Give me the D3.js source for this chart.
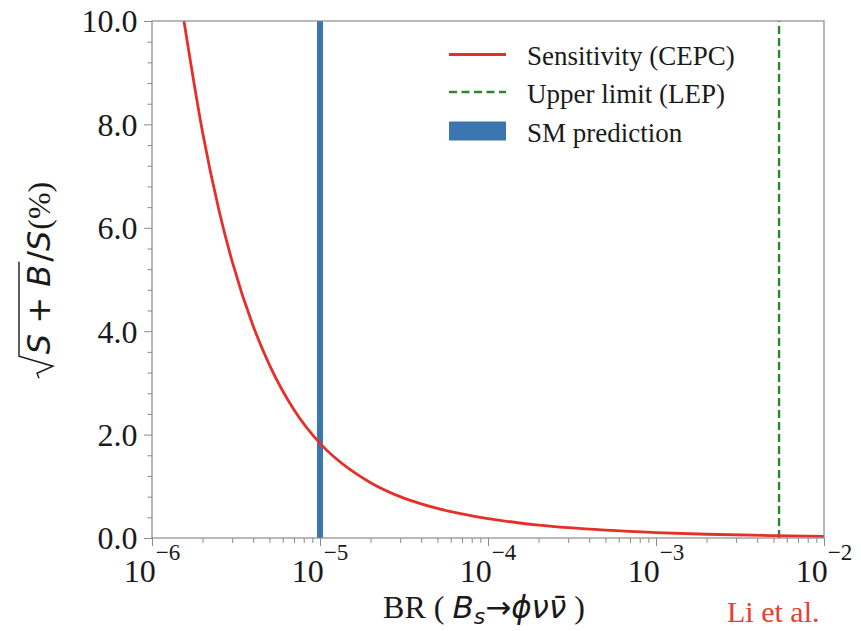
<!DOCTYPE html>
<html>
<head>
<meta charset="utf-8">
<script src="https://cdn.jsdelivr.net/npm/d3@7"></script>
<style>
  html, body { margin: 0; padding: 0; background: #fff; }
  svg { display: block; }
</style>
</head>
<body>
<svg id="chart" width="861" height="631"></svg>
<script>
// ---- data ----
const brValues   = [1.55e-6, 2e-6, 2.5e-6, 3e-6, 4e-6, 5e-6, 7e-6, 1e-5, 1.5e-5, 2e-5, 3e-5, 4e-5, 6e-5, 8e-5, 1e-4, 1.5e-4, 2e-4, 3e-4, 5e-4, 1e-3, 2e-3, 5e-3, 1e-2];
const sensValues = [10.0, 7.85, 6.35, 5.35, 4.1, 3.35, 2.48, 1.83, 1.33, 1.07, 0.8, 0.66, 0.51, 0.43, 0.375, 0.295, 0.25, 0.2, 0.152, 0.105, 0.073, 0.046, 0.033];
const smPrediction = 1e-5;
const lepUpperLimit = 5.4e-3;
const xTickExponents = [-6, -5, -4, -3, -2];
const yTickValues = [0, 2, 4, 6, 8, 10];
const yTickLabels = ["0.0", "2.0", "4.0", "6.0", "8.0", "10.0"];
const legendLabels = ["Sensitivity (CEPC)", "Upper limit (LEP)", "SM prediction"];

// ---- layout ----
const W = 861, H = 631;
const plot = { left: 152, right: 824, top: 21, bottom: 538 };
const RED = "#e5302a", GREEN = "#2a8a2a", BLUE = "#3a76af";
const AXIS = "#8a8a8a", TEXT = "#1a1a1a";
const SERIF = "'Liberation Serif', 'Times New Roman', serif";
const SANS = "'DejaVu Sans', sans-serif";

const svg = d3.select("#chart");
svg.append("rect").attr("width", W).attr("height", H).attr("fill", "#fff");

const x = d3.scaleLog().domain([1e-6, 1e-2]).range([plot.left, plot.right]);
const y = d3.scaleLinear().domain([0, 10]).range([plot.bottom, plot.top]);

svg.append("defs").append("clipPath").attr("id", "clip")
  .append("rect").attr("x", plot.left).attr("y", plot.top)
  .attr("width", plot.right - plot.left).attr("height", plot.bottom - plot.top);

const marks = svg.append("g").attr("clip-path", "url(#clip)");

// SM prediction (thick blue vertical line)
marks.append("line")
  .attr("x1", x(smPrediction)).attr("x2", x(smPrediction))
  .attr("y1", y(0)).attr("y2", y(10))
  .attr("stroke", BLUE).attr("stroke-width", 6);

// LEP upper limit (green dashed)
marks.append("line")
  .attr("x1", x(lepUpperLimit)).attr("x2", x(lepUpperLimit))
  .attr("y1", y(0)).attr("y2", y(10))
  .attr("stroke", GREEN).attr("stroke-width", 2.4).attr("stroke-dasharray", "8,4");

// Sensitivity curve
const pts = brValues.map((b, i) => [b, sensValues[i]]);
marks.append("path").datum(pts)
  .attr("fill", "none").attr("stroke", RED).attr("stroke-width", 2.8)
  .attr("d", d3.line().x(d => x(d[0])).y(d => y(d[1])).curve(d3.curveMonotoneX));

// ---- axes ----
const xMinor = [];
for (let e = -6; e < -2; e++) for (let k = 2; k <= 9; k++) xMinor.push(k * Math.pow(10, e));
const yMinor = d3.range(0, 10.001, 0.4).filter(v => Math.abs(v / 2 - Math.round(v / 2)) > 1e-6);

const xAxisMinor = svg.append("g").attr("transform", `translate(0,${plot.bottom})`)
  .call(d3.axisBottom(x).tickValues(xMinor).tickSize(5).tickFormat(""));
const yAxisMinor = svg.append("g").attr("transform", `translate(${plot.left},0)`)
  .call(d3.axisLeft(y).tickValues(yMinor).tickSize(4.5).tickFormat(""));

const xAxis = svg.append("g").attr("transform", `translate(0,${plot.bottom})`)
  .call(d3.axisBottom(x).tickValues(xTickExponents.map(e => Math.pow(10, e))).tickSize(8).tickFormat(""));
const yAxis = svg.append("g").attr("transform", `translate(${plot.left},0)`)
  .call(d3.axisLeft(y).tickValues(yTickValues).tickSize(8).tickPadding(6)
        .tickFormat((d, i) => yTickLabels[i]));

[xAxisMinor, yAxisMinor, xAxis, yAxis].forEach(g => {
  g.select(".domain").remove();
  g.selectAll(".tick line").attr("stroke", AXIS).attr("stroke-width", 1);
});
yAxis.selectAll(".tick text")
  .attr("font-family", SERIF).attr("font-size", 32).attr("fill", TEXT)
  .attr("x", -14.5).attr("dy", "0.34em");

// x tick labels: 10^e
xTickExponents.forEach(e => {
  const t = svg.append("text")
    .attr("x", x(Math.pow(10, e))).attr("y", 582)
    .attr("text-anchor", "middle")
    .attr("font-family", SERIF).attr("font-size", 32).attr("fill", TEXT);
  t.append("tspan").text("10");
  t.append("tspan").attr("dy", -22).attr("font-size", 23).text("\u2212" + Math.abs(e));
});

// spines (frame)
svg.append("rect")
  .attr("x", plot.left).attr("y", plot.top)
  .attr("width", plot.right - plot.left).attr("height", plot.bottom - plot.top)
  .attr("fill", "none").attr("stroke", AXIS).attr("stroke-width", 1.2);

// ---- legend ----
const leg = svg.append("g");
const rowY = [54.5, 92, 131];
leg.append("line").attr("x1", 449).attr("x2", 506).attr("y1", rowY[0]).attr("y2", rowY[0])
  .attr("stroke", RED).attr("stroke-width", 2.8);
leg.append("line").attr("x1", 449).attr("x2", 506).attr("y1", rowY[1]).attr("y2", rowY[1])
  .attr("stroke", GREEN).attr("stroke-width", 2.4).attr("stroke-dasharray", "8,4.5");
leg.append("rect").attr("x", 449).attr("y", rowY[2] - 9.5).attr("width", 57).attr("height", 19)
  .attr("fill", BLUE);
legendLabels.forEach((lab, i) => {
  leg.append("text").attr("x", 527).attr("y", rowY[i] + 10.5)
    .attr("font-family", SERIF).attr("font-size", 27).attr("fill", TEXT).text(lab);
});

// ---- x label ----
const xl = svg.append("text").attr("x", 484).attr("y", 618).attr("text-anchor", "middle")
  .attr("font-family", SERIF).attr("font-size", 32).attr("fill", TEXT);
xl.append("tspan").text("BR ( ");
xl.append("tspan").attr("font-family", SANS).attr("font-style", "italic").attr("font-size", 31).text("B");
xl.append("tspan").attr("font-family", SANS).attr("font-style", "italic").attr("font-size", 22).attr("dy", 6).text("s");
xl.append("tspan").attr("font-family", SANS).attr("font-size", 31).attr("dy", -6).text("\u2192");
xl.append("tspan").attr("font-family", SANS).attr("font-style", "italic").attr("font-size", 31).text("\u03d5\u03bd\u03bd\u0304");
xl.append("tspan").text(" )");

// ---- y label: sqrt(S+B)/S(%) ----
const yl = svg.append("g").attr("transform", "translate(50,0) rotate(-90)");
const MS = 32;
function piece(txt, fam, style, size) {
  return yl.append("text").attr("font-family", fam).attr("font-style", style)
    .attr("font-size", size).attr("fill", TEXT).attr("y", 0).text(txt);
}
const radW = 22;
const pSB = piece("S + B", SANS, "italic", MS);
const pSlash = piece("/", SANS, "normal", MS);
const pS = piece("S", SANS, "italic", MS);
const pPct = piece("(%)", SERIF, "normal", 32);
const wSB = pSB.node().getComputedTextLength();
const wSlash = pSlash.node().getComputedTextLength();
const wS = pS.node().getComputedTextLength();
const wPct = pPct.node().getComputedTextLength();
const total = radW + 2 + wSB + 3 + wSlash + wS + 1 + wPct;
let cx = -280 - total / 2;
const rx0 = cx;
cx += radW + 2;
pSB.attr("x", cx); cx += wSB + 3;
const vincEnd = cx;
pSlash.attr("x", cx); cx += wSlash;
pS.attr("x", cx); cx += wS + 1;
pPct.attr("x", cx);
yl.append("path")
  .attr("d", `M${rx0},-11 L${rx0 + 5},-13 L${rx0 + 12},3 L${rx0 + radW},-31 L${vincEnd},-31`)
  .attr("fill", "none").attr("stroke", TEXT).attr("stroke-width", 1.4).attr("stroke-linejoin", "miter");

// ---- citation (bottom-right corner, as in the reference) ----
svg.append("text").attr("x", 727).attr("y", 622)
  .attr("font-family", SERIF).attr("font-size", 30).attr("fill", "#e8402e")
  .text("Li et al.");
</script>
</body>
</html>
